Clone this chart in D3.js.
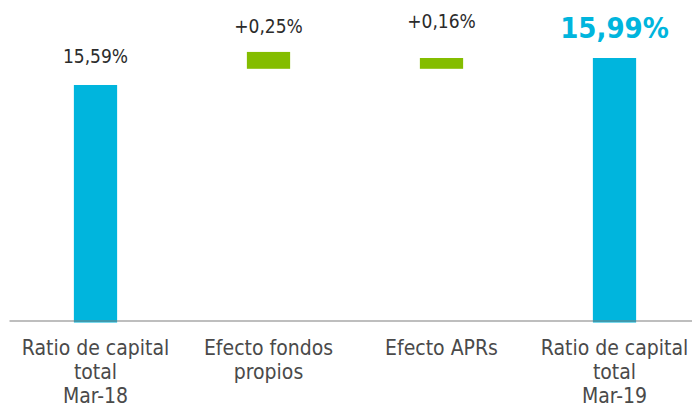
<!DOCTYPE html>
<html>
<head>
<meta charset="utf-8">
<script src="https://cdn.jsdelivr.net/npm/d3@7"></script>
<style>
  html, body { margin: 0; padding: 0; background: #fff; }
  #vis-display { width: 692px; height: 405px; overflow: hidden; }
  text { font-family: "DejaVu Sans Condensed", "DejaVu Sans", sans-serif; font-stretch: condensed; }
</style>
</head>
<body>
<div id="vis-display"></div>
<script>
// Waterfall: total capital ratio Mar-18 -> Mar-19

const CATEGORIES = [
  ["Ratio de capital", "total", "Mar-18"],
  ["Efecto fondos", "propios"],
  ["Efecto APRs"],
  ["Ratio de capital", "total", "Mar-19"],
];
const VALUES   = [15.59, 0.25, 0.16, 15.99];
const KIND     = ["total", "delta", "delta", "total"];
const BASES    = [12.07, 15.83, 15.83, 12.07];   // floating bars start where drawn in the original
const LABELS   = ["15,59%", "+0,25%", "+0,16%", "15,99%"];
const AXIS_AT  = 12.1;

const BLUE  = "#00b5dd";
const GREEN = "#84bd00";

const W = 692, H = 405;
const LABEL_LIFT = [22, 19, 30, 20];

const keys = CATEGORIES.map((c, i) => i);

const x = d3.scaleBand()
  .domain(keys)
  .range([9, 701])
  .padding(0);

const y = d3.scaleLinear()
  .domain([AXIS_AT, 15.99])
  .range([320.5, 58]);

const svg = d3.select("#vis-display").append("svg")
  .attr("width", W)
  .attr("height", H);

const barW = x.bandwidth() * 0.25;

const bars = keys.map(i => {
  const lo = BASES[i];
  const hi = KIND[i] === "total" ? VALUES[i] : BASES[i] + VALUES[i];
  return { i, lo, hi };
});

// ── Bars ────────────────────────────────────────────────────────────────────

svg.append("g")
  .selectAll("rect")
  .data(bars)
  .join("rect")
    .attr("x", d => x(d.i) + (x.bandwidth() - barW) / 2)
    .attr("width", barW)
    .attr("y", d => y(d.hi))
    .attr("height", d => y(d.lo) - y(d.hi))
    .attr("fill", d => KIND[d.i] === "total" ? BLUE : GREEN);

// ── Axis ────────────────────────────────────────────────────────────────────

const axis = svg.append("g")
  .attr("transform", `translate(0,${y(AXIS_AT)})`)
  .call(d3.axisBottom(x).tickSize(0).tickSizeOuter(0).tickFormat(""));

axis.select(".domain")
  .attr("stroke", "#7f7f7f")
  .attr("stroke-width", 1.2);

axis.selectAll(".tick text").remove();
axis.selectAll(".tick")
  .append("text")
    .attr("text-anchor", "middle")
    .attr("fill", "#4a4a4a")
    .style("font-size", "21px")
    .selectAll("tspan")
    .data(i => CATEGORIES[i])
    .join("tspan")
      .attr("x", 0)
      .attr("y", (d, j) => 34 + j * 24)
      .text(d => d);

// ── Value labels ────────────────────────────────────────────────────────────

svg.append("g")
  .selectAll("text")
  .data(bars)
  .join("text")
    .attr("x", d => x(d.i) + x.bandwidth() / 2)
    .attr("y", d => y(d.hi) - LABEL_LIFT[d.i])
    .attr("text-anchor", "middle")
    .attr("fill", d => d.i === 3 ? BLUE : "#2b2b2b")
    .style("font-size", d => d.i === 3 ? "29px" : "19px")
    .style("font-weight", d => d.i === 3 ? "bold" : "normal")
    .text(d => LABELS[d.i]);
</script>
</body>
</html>
